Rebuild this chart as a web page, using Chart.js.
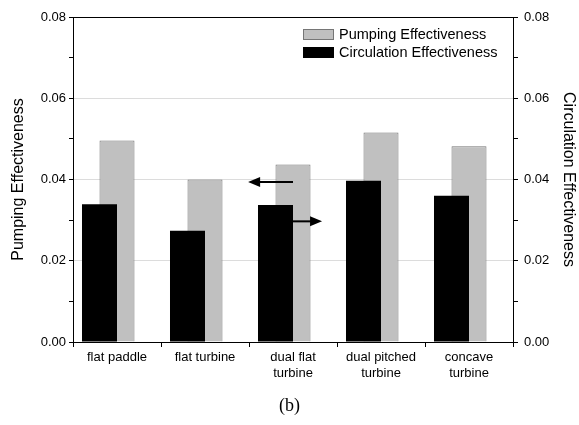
<!DOCTYPE html>
<html>
<head>
<meta charset="utf-8">
<script src="https://cdn.jsdelivr.net/npm/chart.js@4/dist/chart.umd.min.js"></script>
<style>
  html, body { margin: 0; padding: 0; background: #fff; }
  #wrap { width: 579px; height: 425px; }
</style>
</head>
<body>
<div id="wrap"><canvas id="chart" width="579" height="425"></canvas></div>
<script>
const categories = [
  ["flat paddle"],
  ["flat turbine"],
  ["dual flat", "turbine"],
  ["dual pitched", "turbine"],
  ["concave", "turbine"],
];
const pumping = [0.0496, 0.04, 0.0437, 0.0516, 0.0482];
const circulation = [0.0339, 0.0274, 0.0337, 0.0397, 0.036];
const yMin = 0;
const yMax = 0.08;
const yStep = 0.01;

Chart.defaults.font.family = "'Liberation Sans', Arial, sans-serif";
Chart.defaults.font.size = 13;
Chart.defaults.color = "#000";

// legend drawn inside the plot, stacked like the original
const boxLegend = {
  id: "boxLegend",
  afterDraw(chart) {
    const c = chart.ctx;
    const area = chart.chartArea;
    const items = [chart.data.datasets[1], chart.data.datasets[0]];
    c.save();
    c.font = "14.5px 'Liberation Sans', Arial, sans-serif";
    c.textBaseline = "middle";
    items.forEach((ds, i) => {
      const x = area.right - 210;
      const y = area.top + 12 + i * 18;
      c.fillStyle = ds.backgroundColor;
      c.fillRect(x, y, 31, 11);
      c.strokeStyle = ds.borderColor;
      c.lineWidth = 1;
      c.strokeRect(x + 0.5, y + 0.5, 30, 10);
      c.fillStyle = "#000";
      c.fillText(ds.label, x + 36, y + 6);
    });
    c.restore();
  },
};

// arrows pointing to the axis of each series
const axisArrows = {
  id: "axisArrows",
  afterDatasetsDraw(chart) {
    const c = chart.ctx;
    const xs = chart.scales.x;
    const ys = chart.scales.y;
    const arrows = [
      { from: 2.0, to: 1.49, y: 0.0394 },
      { from: 1.99, to: 2.33, y: 0.0297 },
    ];
    c.save();
    c.strokeStyle = "#000";
    c.fillStyle = "#000";
    c.lineWidth = 2;
    arrows.forEach((a) => {
      const x0 = xs.getPixelForValue(a.from);
      const x1 = xs.getPixelForValue(a.to);
      const y = ys.getPixelForValue(a.y);
      const dir = Math.sign(x1 - x0);
      c.beginPath();
      c.moveTo(x0, y);
      c.lineTo(x1 - dir * 10, y);
      c.stroke();
      c.beginPath();
      c.moveTo(x1, y);
      c.lineTo(x1 - dir * 12, y - 5);
      c.lineTo(x1 - dir * 12, y + 5);
      c.closePath();
      c.fill();
    });
    c.restore();
  },
};

const tickLabel = (value, index) => (index % 2 === 0 ? value.toFixed(2) : "");
const gridColor = (ctx) => {
  const i = ctx.index;
  return i % 2 === 0 && i > 0 && i < 8 ? "#dcdcdc" : "rgba(0,0,0,0)";
};

new Chart(document.getElementById("chart"), {
  type: "bar",
  data: {
    labels: categories,
    datasets: [
      {
        label: "Circulation Effectiveness",
        data: circulation,
        yAxisID: "y2",
        backgroundColor: "#000000",
        borderColor: "#000000",
        borderWidth: 0,
      },
      {
        label: "Pumping Effectiveness",
        data: pumping,
        yAxisID: "y",
        backgroundColor: "#c0c0c0",
        borderColor: "#767676",
        borderWidth: 1,
      },
      {
        // empty slot so the grey bar sits on the category centre
        label: "",
        data: [null, null, null, null, null],
        yAxisID: "y",
      },
    ],
  },
  options: {
    responsive: false,
    animation: false,
    categoryPercentage: 0.5966,
    barPercentage: 2,
    layout: { padding: 0 },
    plugins: {
      legend: { display: false },
      tooltip: { enabled: false },
      title: {
        display: true,
        position: "bottom",
        text: "(b)",
        font: { family: "'Liberation Serif', 'DejaVu Serif', serif", size: 18, weight: "normal" },
        padding: { top: 10, bottom: 8 },
      },
    },
    scales: {
      x: {
        position: "bottom",
        grid: { drawOnChartArea: false, tickColor: "#000", tickLength: 5, offset: true },
        border: { color: "#000", width: 1 },
        ticks: { padding: 3, maxRotation: 0, font: { size: 13 } },
        afterFit: (s) => { s.height = 43.4; },
      },
      xTop: {
        position: "top",
        type: "category",
        labels: categories,
        grid: { display: false },
        border: { display: true, color: "#000", width: 1 },
        ticks: { display: false },
        afterFit: (s) => { s.height = 17; },
      },
      y: {
        position: "left",
        min: yMin,
        max: yMax,
        ticks: { stepSize: yStep, callback: tickLabel, padding: 3, autoSkip: false },
        grid: { color: gridColor, tickColor: "#000", tickLength: 4 },
        border: { color: "#000", width: 1 },
        title: {
          display: true,
          text: "Pumping Effectiveness",
          font: { size: 16 },
          padding: { top: 9.4, bottom: 0 },
        },
        afterFit: (s) => { s.width = 73; },
      },
      y2: {
        position: "right",
        min: yMin,
        max: yMax,
        ticks: { stepSize: yStep, callback: tickLabel, padding: 6, autoSkip: false },
        grid: { drawOnChartArea: false, tickColor: "#000", tickLength: 5 },
        border: { color: "#000", width: 1 },
        title: {
          display: true,
          text: "Circulation Effectiveness",
          font: { size: 16 },
          padding: { top: 1.4, bottom: 0 },
        },
        afterFit: (s) => { s.width = 66; },
      },
    },
  },
  plugins: [boxLegend, axisArrows],
});
</script>
</body>
</html>
